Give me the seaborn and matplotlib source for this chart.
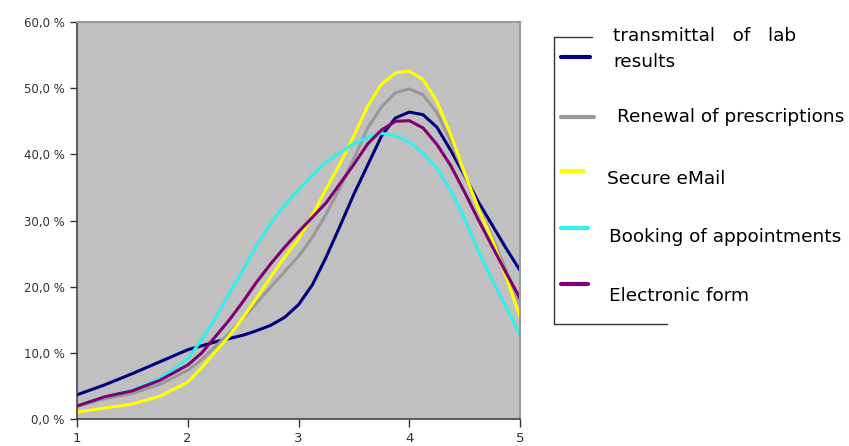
import numpy as np
import pandas as pd
import seaborn as sns
import matplotlib.pyplot as plt
from matplotlib.lines import Line2D
from matplotlib.ticker import FuncFormatter

# values (share of answers, %)
scale = [1, 1.25, 1.5, 1.75, 2, 2.125, 2.25, 2.375, 2.5, 2.625, 2.75, 2.875, 3,
         3.125, 3.25, 3.375, 3.5, 3.625, 3.75, 3.875, 4, 4.125, 4.25, 4.375, 4.5,
         4.625, 4.75, 4.875, 5]

lab_results = [3.7, 5.2, 6.9, 8.7, 10.5, 11.1, 11.7, 12.2, 12.7, 13.4, 14.2, 15.4, 17.3,
               20.3, 24.5, 29.2, 34.0, 38.4, 42.8, 45.5, 46.4, 46.0, 44.1, 40.6, 36.8,
               32.8, 29.3, 25.8, 22.5]
prescriptions = [2.0, 3.1, 3.9, 5.3, 7.4, 9.0, 11.0, 13.0, 15.3, 17.6, 20.0, 22.3, 24.6,
                 27.5, 31.0, 35.0, 39.4, 44.0, 47.2, 49.3, 49.9, 49.0, 46.3, 42.0, 37.0,
                 32.0, 27.5, 22.5, 17.3]
secure_email = [1.1, 1.7, 2.3, 3.5, 5.6, 7.8, 10.2, 12.6, 15.4, 18.4, 21.5, 24.5, 27.2,
                30.8, 34.8, 38.6, 42.8, 47.3, 50.6, 52.3, 52.6, 51.3, 48.0, 43.0, 37.2,
                31.8, 27.1, 21.5, 15.5]
appointments = [2.0, 3.4, 4.4, 6.2, 9.1, 12.0, 15.3, 19.0, 22.6, 26.3, 29.6, 32.4, 34.6,
                36.9, 38.9, 40.3, 41.6, 42.6, 43.2, 42.8, 41.9, 40.2, 37.9, 34.5, 30.3,
                25.4, 21.0, 17.0, 12.7]
electronic_form = [2.0, 3.4, 4.3, 5.9, 8.2, 10.0, 12.5, 15.0, 17.8, 20.8, 23.5, 26.0, 28.3,
                   30.5, 32.7, 35.6, 38.5, 41.6, 43.7, 45.0, 45.1, 44.0, 41.5, 38.3, 34.3,
                   30.1, 26.1, 22.1, 18.3]

series_names = ["transmittal of lab results", "Renewal of prescriptions", "Secure eMail",
                "Booking of appointments", "Electronic form"]
colors = ["#000080", "#999999", "#ffff00", "#33eeee", "#800070"]

df = pd.concat([
    pd.DataFrame({"x": scale, "y": vals, "series": name})
    for name, vals in zip(series_names,
                          [lab_results, prescriptions, secure_email, appointments, electronic_form])
])

sns.set_style("white")
plt.rcParams["font.family"] = ["DejaVu Sans"]

W, H = 849, 446
fig = plt.figure(figsize=(W / 100, H / 100), dpi=100)
ax = fig.add_axes([77 / W, 1 - 419.3 / H, (520 - 77) / W, (419.3 - 22) / H])
ax.set_facecolor("#c0c0c0")

sns.lineplot(data=df, x="x", y="y", hue="series", palette=dict(zip(series_names, colors)),
             hue_order=series_names, linewidth=2.2, legend=False, ax=ax, sort=False,
             solid_joinstyle="round", solid_capstyle="round")

ax.set_xlim(1, 5)
ax.set_ylim(0, 60)
ax.set_xticks([1, 2, 3, 4, 5])
ax.set_yticks(np.arange(0, 61, 10))
ax.yaxis.set_major_formatter(FuncFormatter(lambda v, p: f"{v:.1f} %".replace(".", ",")))
ax.set_xlabel("")
ax.set_ylabel("")
ax.tick_params(axis="both", direction="out", length=5, width=1, color="#333333",
               labelcolor="#333333", left=True, bottom=True)
ax.tick_params(axis="y", pad=4, labelsize=8.5)
ax.tick_params(axis="x", pad=3, length=6, labelsize=9.5)

for side in ["left", "bottom"]:
    ax.spines[side].set_color("#444444")
    ax.spines[side].set_linewidth(1.2)
for side in ["top", "right"]:
    ax.spines[side].set_color("#999999")
    ax.spines[side].set_linewidth(1.5)


# hand-drawn legend, positions in figure pixels
def fx(px):
    return px / W


def fy(py):
    return 1 - py / H


frame = dict(color="#333333", linewidth=1.0, transform=fig.transFigure)
fig.add_artist(Line2D([fx(554), fx(554)], [fy(37), fy(324)], **frame))
fig.add_artist(Line2D([fx(554), fx(592)], [fy(37), fy(37)], **frame))
fig.add_artist(Line2D([fx(554), fx(667)], [fy(324), fy(324)], **frame))

handles = [(561, 590, 57), (561, 594, 117), (561, 584, 171), (561, 588, 228), (561, 588, 284)]
for (x0, x1, yy), c in zip(handles, colors):
    fig.add_artist(Line2D([fx(x0), fx(x1)], [fy(yy), fy(yy)], color=c, linewidth=3,
                          transform=fig.transFigure))

label_kw = dict(fontsize=13.3, color="black", va="center", ha="left")
fig.text(fx(613), fy(36), "transmittal   of   lab", **label_kw)
fig.text(fx(613), fy(62), "results", **label_kw)
fig.text(fx(617), fy(117), "Renewal of prescriptions", **label_kw)
fig.text(fx(607), fy(179), "Secure eMail", **label_kw)
fig.text(fx(609), fy(237), "Booking of appointments", **label_kw)
fig.text(fx(609), fy(296), "Electronic form", **label_kw)

fig.savefig("out.png", dpi=100)
